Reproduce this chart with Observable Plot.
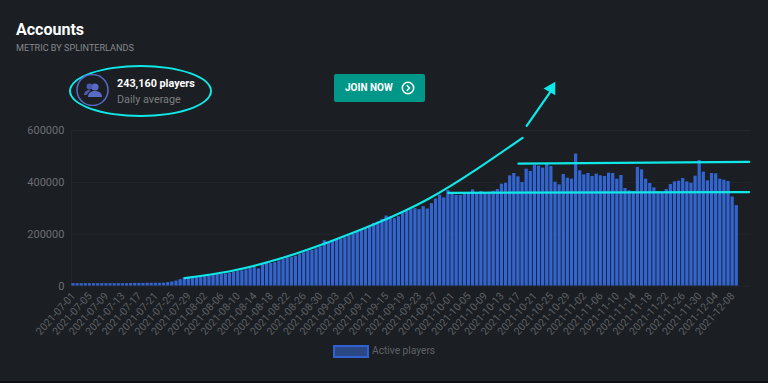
<!DOCTYPE html>
<html><head><meta charset="utf-8">
<script src="https://cdn.jsdelivr.net/npm/d3@7"></script>
<script src="https://cdn.jsdelivr.net/npm/@observablehq/plot@0.6"></script>
<style>
html,body{margin:0;padding:0;background:#1b1e23;width:768px;height:383px;overflow:hidden;font-family:Roboto,sans-serif}
#wrap{position:relative;width:768px;height:383px}
#wrap>*{position:absolute}
#chart{left:0;top:0}
</style></head><body>
<div id="wrap">
<div id="chart"></div>
<div style="left:16px;top:20px;font-size:16px;font-weight:700;color:#fff;line-height:20px">Accounts</div>
<div style="left:16px;top:42px;font-size:9.1px;color:#85888c;line-height:12px">METRIC BY SPLINTERLANDS</div>
<div style="left:69px;top:65px;width:139px;height:48px;border:2px solid #10e8e8;border-radius:50%"></div>
<svg style="left:76px;top:74px" width="34" height="32" viewBox="0 0 34 32">
<circle cx="16.5" cy="16" r="15.5" fill="none" stroke="#5568c4" stroke-width="1.6"/>
<circle cx="19" cy="13" r="3.6" fill="#5a6bc6"/><circle cx="13.5" cy="12.5" r="3" fill="#4a5ab0"/>
<path d="M12 23c0-4 3-6 7-6s7 2 7 6z" fill="#5a6bc6"/><path d="M8 21c0-3 2.500-5 5.500-5l1 1c-2 1-3 2-3.500 4z" fill="#4a5ab0"/>
</svg>
<div style="left:117px;top:76px;font-size:10.8px;font-weight:700;color:#fff;line-height:15px">243,160 players</div>
<div style="left:117px;top:92px;font-size:10.8px;color:#7b7e82;line-height:15px">Daily average</div>
<div style="left:334px;top:74px;width:91px;height:28px;background:#009688;border-radius:2px"></div>
<div style="left:345px;top:81px;font-size:10px;font-weight:700;color:#fff;line-height:13px">JOIN NOW</div>
<svg style="left:401px;top:81px" width="14" height="14" viewBox="0 0 14 14"><circle cx="7" cy="7" r="5.700" fill="none" stroke="#fff" stroke-width="1.500"/><path d="M5.800 4.200L8.500 7L5.800 9.800" fill="none" stroke="#fff" stroke-width="1.500"/></svg>
<div style="left:333px;top:345px;width:32px;height:9px;background:#2b4885;border:2px solid #2f62d0"></div>
<div style="left:372px;top:344px;font-size:10.2px;color:#5f6266;line-height:14px">Active players</div>
<div style="left:0;top:381px;width:768px;height:2px;background:#0c0e10"></div>
</div>
<script>
const firstDay = "2021-07-01";
const yTicks = [0, 200000, 400000, 600000];
const activePlayers = [
 9000,9000,9000,9000,9000,9000,9000,9000,9000,9000,9000,9000,9000,9000,9500,
 10000,10000,10000,10500,10500,10500,10500,11000,12800,15500,19000,24500,32300,
 31000,32300,33600,34900,36200,38800,41300,43900,45200,46500,49100,53000,55600,58100,62000,67200,71100,65900,81400,86600,86600,90400,96900,102000,108500,
 111100,115000,121400,127900,133100,137000,143400,149900,174400,166700,171800,177000,180900,186000,193800,200300,206700,213200,219600,226100,241600,246800,257100,270000,266200,259700,267400,280400,288100,294600,298500,294600,306200,297200,317800,335900,350100,339800,368200,356600,350100,350100,356600,356600,370800,360500,364300,360500,361800,365600,372100,392800,396600,425100,434100,421200,399200,
 450900,441900,466400,462500,454800,469000,461200,400500,390200,430200,416000,412100,509000,444400,428900,434100,422500,431500,425100,422500,435400,434100,412100,426400,376000,366900,364300,457400,448300,412100,395400,378600,364300,356600,372100,391500,401800,404400,414700,401800,396600,423800,484500,439300,405700,434100,432800,412100,408300,403100,343700,310100
];
const trailingDays = 3; // empty room right of the bars, used by the hand-drawn trend lines
const fmt = d3.utcFormat("%Y-%m-%d");
const start = new Date(firstDay + "T00:00:00Z");
const days = d3.range(activePlayers.length + trailingDays).map(i => fmt(d3.utcDay.offset(start, i)));
const bars = activePlayers.map((v, i) => ({day: days[i], v}));
const xTicks = days.filter((d, i) => i % 4 === 0 && i < activePlayers.length);

const trendDays = ["2021-07-28","2021-08-08","2021-08-20","2021-09-01","2021-09-13","2021-09-25","2021-10-07","2021-10-18"];
const trendVals = [30200,57000,105000,170000,245000,335000,452000,571700];
const curve = trendDays.map((d, i) => ({d, v: trendVals[i]}));
const upper = [{d:"2021-10-17", v:472000},{d:"2021-12-12", v:478700}];
const lower = [{d:"2021-09-30", v:359700},{d:"2021-12-12", v:362400}];
const arrowShaft = [{d:"2021-10-19", v:618000},{d:"2021-10-25", v:755000}];
const arrowTip = [{d:"2021-10-25", v:762000}];
const cyan = "#10e8e8";

const plot = Plot.plot({
  width: 768, height: 383,
  marginLeft: 70.9, marginRight: 17.3, marginTop: 130, marginBottom: 97.5,
  style: {background: "transparent", fontFamily: "Roboto, sans-serif"},
  x: {type: "band", domain: days, padding: 0, round: false, label: null},
  y: {domain: [0, 600000], label: null},
  marks: [
    Plot.gridY(yTicks, {stroke: "#24272c", strokeOpacity: 1}),
    Plot.ruleX([days[0]], {stroke: "#24272c", strokeOpacity: 1, y1: 0, y2: 600000, dx: -2}),
    Plot.barY(bars, {x: "day", y: "v", fill: "#3365d0", insetLeft: 0.45, insetRight: 0.45}),
    Plot.axisY({ticks: yTicks, tickFormat: d => String(d), tickSize: 0, tickPadding: 7, label: null, fill: "#6b6e72", fontSize: 11}),
    Plot.axisX({ticks: xTicks, tickRotate: -48, tickSize: 0, tickPadding: 8, label: null, fill: "#5d6064", fontSize: 10.5}),
    Plot.line(curve, {x: "d", y: "v", stroke: cyan, strokeWidth: 2.2, curve: "natural"}),
    Plot.line(upper, {x: "d", y: "v", stroke: cyan, strokeWidth: 2.2}),
    Plot.line(lower, {x: "d", y: "v", stroke: cyan, strokeWidth: 2.2}),
    Plot.line(arrowShaft, {x: "d", y: "v", stroke: cyan, strokeWidth: 2.2}),
    Plot.dot(arrowTip, {x: "d", y: "v", symbol: "triangle", r: 5, rotate: 30, fill: cyan})
  ]
});
document.getElementById("chart").appendChild(plot);
</script>
</body></html>
